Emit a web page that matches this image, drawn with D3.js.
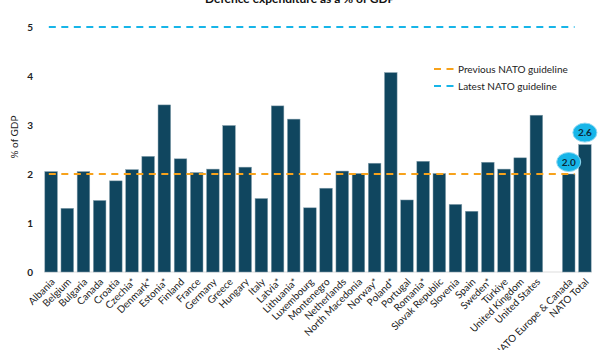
<!doctype html>
<html lang="en">
<head>
  <meta charset="UTF-8">
  <script src="https://cdn.jsdelivr.net/npm/d3@7"></script>
  <title>Defence expenditure</title>
  <style>
    body{ margin:0; background:#fff; }
    .chart svg{ font-family: Lato, "Open Sans", sans-serif; }
  </style>
</head>
<body>
  <div class="chart"></div>
  <script>
    const countries = ['Albania','Belgium','Bulgaria','Canada','Croatia','Czechia*','Denmark*','Estonia*','Finland','France',
      'Germany','Greece','Hungary','Italy','Latvia*','Lithuania*','Luxembourg','Montenegro','Netherlands','North Macedonia',
      'Norway*','Poland*','Portugal','Romania*','Slovak Republic','Slovenia','Spain','Sweden*','Türkiye','United Kingdom',
      'United States','','NATO Europe & Canada','NATO Total'];
    const spend = [2.05,1.30,2.05,1.46,1.86,2.09,2.36,3.41,2.31,2.03,
      2.10,2.99,2.14,1.50,3.39,3.12,1.31,1.71,2.06,2.01,
      2.22,4.07,1.47,2.26,2.01,1.38,1.24,2.24,2.10,2.33,
      3.20,null,2.0,2.6];
    const bubbles = [{name:'NATO Europe & Canada', text:'2.0'}, {name:'NATO Total', text:'2.6'}];
    const guides = [{label:'Previous NATO guideline', value:2, color:'#f7a21b'},
                    {label:'Latest NATO guideline', value:5, color:'#17b5e8'}];
    const yTicks = [0,1,2,3,4,5];

    const bx = {w:600, h:350};
    const margin = {top:27, right:8, bottom:78, left:44};
    const width = bx.w - margin.left - margin.right;
    const height = bx.h - margin.top - margin.bottom;

    const svg = d3.select('.chart').append('svg')
      .attr('width', bx.w).attr('height', bx.h);
    const g = svg.append('g').attr('transform', `translate(${margin.left} ${margin.top})`);

    svg.append('text').attr('x', 300).attr('y', 3).attr('text-anchor', 'middle')
      .attr('font-size', 12).attr('font-weight', 700).attr('fill', '#111')
      .text('Defence expenditure as a % of GDP');

    const x = d3.scaleBand().domain(countries.map((d, i) => i)).range([0, width]).paddingInner(0.22).paddingOuter(0.05);
    const y = d3.scaleLinear().domain([0, 5]).range([height, 0]);

    // y ticks
    g.selectAll('text.ytick').data(yTicks).enter().append('text')
      .attr('x', -11).attr('y', d => y(d)).attr('dy', '0.35em')
      .attr('text-anchor', 'end').attr('font-size', 10).attr('font-weight', 700).attr('fill', '#222')
      .text(d => d);

    svg.append('text').attr('transform', `translate(18 ${margin.top + 110}) rotate(-90)`)
      .attr('text-anchor', 'middle').attr('font-size', 10).attr('fill', '#222').text('% of GDP');

    g.append('line').attr('x1', 0).attr('x2', width).attr('y1', height).attr('y2', height)
      .attr('stroke', '#ddd').attr('stroke-width', 1);

    g.selectAll('rect.bar').data(spend.map((v, i) => ({i, v})).filter(d => d.v !== null))
      .enter().append('rect').attr('class', 'bar')
      .attr('x', d => x(d.i)).attr('width', x.bandwidth())
      .attr('y', d => y(d.v)).attr('height', d => height - y(d.v))
      .attr('fill', '#10465f').attr('stroke', '#8aa3b0').attr('stroke-width', 0.5);

    // guideline lines
    const x0 = x(0) + 4, x1 = x(countries.length - 1) - 4;
    g.selectAll('line.guide').data(guides).enter().append('line')
      .attr('x1', x0).attr('x2', x1)
      .attr('y1', d => y(d.value)).attr('y2', d => y(d.value))
      .attr('stroke', d => d.color).attr('stroke-width', 2).attr('stroke-dasharray', '7 5.5');

    // legend
    const lg = svg.selectAll('g.legend').data(guides).enter().append('g')
      .attr('transform', (d, i) => `translate(434 ${69 + i * 17})`);
    lg.append('line').attr('x1', 0).attr('x2', 20).attr('stroke', d => d.color)
      .attr('stroke-width', 2).attr('stroke-dasharray', '7 5.5');
    lg.append('text').attr('x', 24).attr('dy', '0.35em').attr('font-size', 10).attr('fill', '#222')
      .text(d => d.label);

    // bubbles
    const bb = g.selectAll('g.bubble').data(bubbles).enter().append('g')
      .attr('transform', d => {
        const i = countries.indexOf(d.name);
        return `translate(${x(i) + x.bandwidth() / 2} ${y(spend[i]) - 12})`;
      });
    bb.append('ellipse').attr('rx', 12).attr('ry', 9.5).attr('fill', '#17b5e8').attr('stroke', '#8fd8f2').attr('stroke-width', 1);
    bb.append('text').attr('dy', '0.35em').attr('text-anchor', 'middle').attr('font-size', 10)
      .attr('font-weight', 700).attr('fill', '#0b2a3a').text(d => d.text);

    // x labels
    g.selectAll('text.xlab').data(countries).enter().append('text')
      .attr('transform', (d, i) => `translate(${x(i) + x.bandwidth() / 2 + 2} ${height + 8}) rotate(-45)`)
      .attr('text-anchor', 'end').attr('dy', '0.35em').attr('font-size', 10).attr('fill', '#222')
      .text(d => d);
  </script>
</body>
</html>
